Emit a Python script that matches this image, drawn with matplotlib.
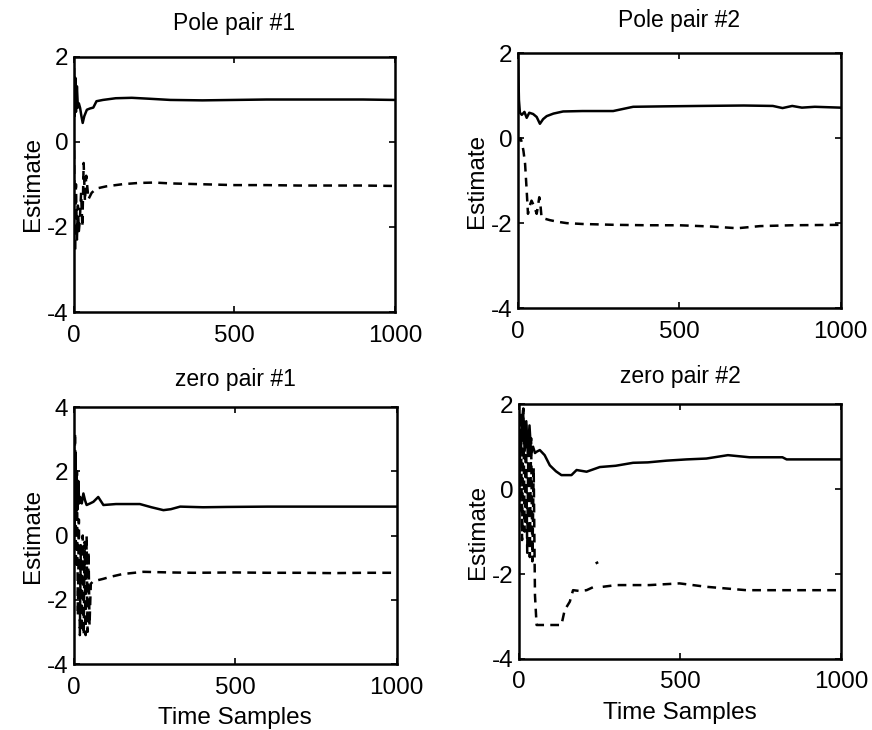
import matplotlib.pyplot as plt
import numpy as np

plt.rcParams['font.family'] = ['Liberation Sans', 'DejaVu Sans']
plt.rcParams['axes.unicode_minus'] = False

# Pole pair #1
p1_x_solid = [0, 2, 4, 6, 9, 12, 15, 19, 23, 27, 32, 40, 50, 60, 70, 90, 130, 180, 230, 300, 400, 500, 600, 700, 800, 900, 1000]
p1_y_solid = [1.7, 0.6, 1.5, 0.7, 1.3, 0.8, 0.9, 0.79, 0.6, 0.44, 0.6, 0.75, 0.78, 0.8, 0.95, 0.98, 1.02, 1.03, 1.01, 0.98, 0.97, 0.98, 0.99, 0.99, 0.99, 0.99, 0.98]
p1_x_dash = [0, 3, 6, 9, 12, 15, 18, 22, 26, 30, 34, 38, 45, 55, 70, 100, 150, 200, 250, 300, 400, 500, 600, 700, 800, 900, 1000]
p1_y_dash = [-0.2, -2.6, -1.0, -2.3, -1.5, -2.1, -1.85, -1.2, -2.0, -0.5, -1.4, -0.8, -1.35, -1.2, -1.1, -1.05, -1.0, -0.97, -0.96, -0.98, -1.0, -1.02, -1.02, -1.03, -1.03, -1.03, -1.04]

# Pole pair #2
p2_x_solid = [0, 3, 6, 12, 20, 27, 35, 47, 58, 68, 78, 89, 110, 140, 200, 295, 357, 450, 563, 700, 790, 820, 850, 880, 920, 1000]
p2_y_solid = [2.0, 0.9, 0.6, 0.55, 0.62, 0.48, 0.6, 0.57, 0.5, 0.34, 0.45, 0.52, 0.58, 0.63, 0.64, 0.64, 0.74, 0.75, 0.76, 0.77, 0.76, 0.71, 0.76, 0.72, 0.74, 0.72]
p2_x_dash = [0, 4, 8, 12, 17, 22, 27, 31, 36, 42, 50, 58, 62, 66, 70, 73, 85, 99, 125, 151, 200, 300, 400, 500, 600, 680, 750, 850, 1000]
p2_y_dash = [0.0, -0.05, 0.0, -0.1, -0.3, -0.6, -1.23, -1.78, -1.6, -1.47, -1.6, -1.78, -1.6, -1.39, -1.6, -1.86, -1.9, -1.93, -1.97, -2.0, -2.02, -2.04, -2.05, -2.05, -2.08, -2.12, -2.07, -2.05, -2.04]

# zero pair #1
z1_x_solid = [0, 2, 4, 6, 8, 10, 13, 16, 19, 24, 29, 34, 39, 50, 60, 75, 91, 130, 204, 240, 277, 300, 329, 400, 473, 600, 700, 800, 900, 1000]
z1_y_solid = [3.1, 0.2, 2.6, 0.5, 2.0, 0.8, 1.7, 1.0, 1.2, 1.0, 1.31, 1.1, 0.95, 1.0, 1.05, 1.2, 0.95, 0.98, 0.98, 0.88, 0.79, 0.82, 0.9, 0.88, 0.89, 0.9, 0.9, 0.9, 0.9, 0.9]
z1_x_dash = [0, 3, 6, 9, 12, 15, 18, 21, 24, 27, 30, 33, 36, 39, 42, 45, 48, 52, 60, 70, 90, 111, 150, 215, 300, 369, 500, 600, 700, 800, 900, 1000]
z1_y_dash = [0.0, 3.2, -1.0, 2.0, -2.5, 0.5, -3.1, -0.3, -3.0, 0.0, -3.1, -0.2, -3.1, 0.0, -3.0, -0.5, -2.8, -1.5, -1.42, -1.4, -1.35, -1.29, -1.2, -1.13, -1.15, -1.16, -1.15, -1.16, -1.16, -1.17, -1.16, -1.16]

# zero pair #2
z2_x_solid = [0, 4, 8, 13, 18, 23, 28, 33, 38, 44, 50, 55, 65, 80, 96, 115, 132, 163, 179, 210, 251, 300, 354, 400, 457, 520, 581, 648, 715, 817, 830, 1000]
z2_y_solid = [0.0, 0.9, 1.2, 1.86, 0.9, 1.6, 0.8, 1.5, 0.85, 1.0, 0.85, 0.88, 0.92, 0.8, 0.56, 0.42, 0.33, 0.33, 0.45, 0.41, 0.52, 0.55, 0.62, 0.63, 0.67, 0.7, 0.72, 0.8, 0.75, 0.75, 0.7, 0.7]
z2_x_dash = [0, 3, 6, 10, 14, 18, 22, 26, 30, 34, 38, 42, 46, 50, 55, 90, 132, 142, 158, 168, 190, 210, 230, np.nan, 238, 246, np.nan, 260, 302, 405, 498, 581, 705, 800, 1000]
z2_y_dash = [0.0, -0.5, 1.8, -1.2, 1.9, -1.0, 1.6, -1.5, 1.4, -1.6, 1.2, -1.7, 0.5, -2.5, -3.2, -3.2, -3.2, -2.85, -2.65, -2.38, -2.4, -2.38, -2.31, np.nan, -1.75, -1.72, np.nan, -2.3, -2.26, -2.26, -2.22, -2.30, -2.38, -2.38, -2.38]

titles = ['Pole pair #1', 'Pole pair #2', 'zero pair #1', 'zero pair #2']
positions = [[0.0849, 0.5726, 0.368, 0.350],
             [0.594, 0.578, 0.370, 0.349],
             [0.0849, 0.0904, 0.370, 0.352],
             [0.595, 0.0973, 0.370, 0.349]]
ylims = [(-4, 2), (-4, 2), (-4, 4), (-4, 2)]
series = [(p1_x_solid, p1_y_solid, p1_x_dash, p1_y_dash),
          (p2_x_solid, p2_y_solid, p2_x_dash, p2_y_dash),
          (z1_x_solid, z1_y_solid, z1_x_dash, z1_y_dash),
          (z2_x_solid, z2_y_solid, z2_x_dash, z2_y_dash)]

fig = plt.figure(figsize=(8.72, 7.3), dpi=100)
for i in range(4):
    ax = fig.add_axes(positions[i])
    xs, ys, xd, yd = series[i]
    ax.plot(xs, ys, color='black', linewidth=1.8)
    ax.plot(xd, yd, color='black', linewidth=1.8, linestyle=(0, (3.5, 2.5)))
    ax.set_xlim(0, 1000)
    ax.set_ylim(*ylims[i])
    ax.set_xticks([0, 500, 1000])
    ax.set_yticks(np.arange(ylims[i][0], ylims[i][1] + 1, 2))
    ax.tick_params(direction='in', labelsize=17.5, length=4, width=1.2, top=True, right=True)
    ax.tick_params(axis='x', pad=9)
    ax.tick_params(axis='y', pad=4)
    for s in ax.spines.values():
        s.set_linewidth(1.8)
    ax.set_title(titles[i], fontsize=16.5, pad=19 if i < 2 else 15)
    ax.set_ylabel('Estimate', fontsize=17.5, labelpad=2)
    if i >= 2:
        ax.set_xlabel('Time Samples', fontsize=17.5, labelpad=6)

plt.savefig('out.png', dpi=100)
